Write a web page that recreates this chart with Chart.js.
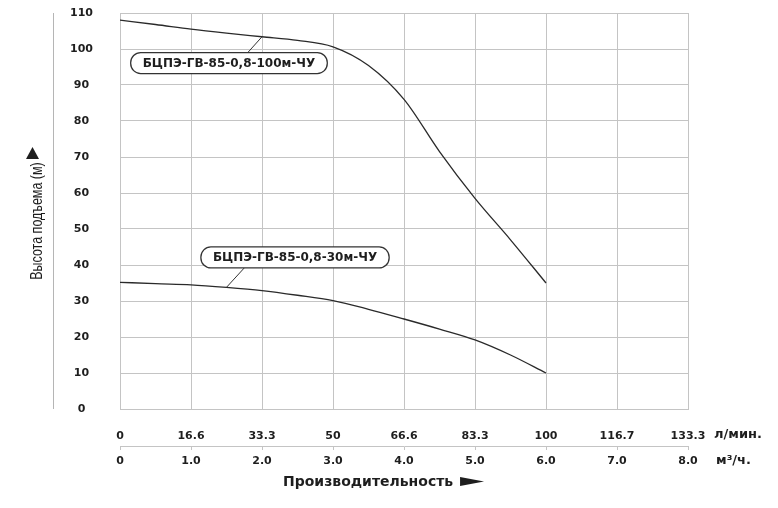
<!DOCTYPE html>
<html>
<head>
<meta charset="utf-8">
<script src="https://cdn.jsdelivr.net/npm/chart.js@4.4.1/dist/chart.umd.min.js"></script>
<style>
  html, body { margin: 0; padding: 0; background: #fff; }
  #wrap { position: relative; width: 778px; height: 508px; }
</style>
</head>
<body>
<div id="wrap"><canvas id="pumpChart"></canvas></div>
<script>
// Расход, м3/ч (точки)
const flowM3h = [0, 0.5, 1, 1.5, 2, 2.5, 3, 3.5, 4, 4.5, 5, 5.5, 6];
// Напор, м
const head100 = [108, 106.8, 105.5, 104.4, 103.4, 102.4, 100.6, 95.4, 86, 71.5, 58.5, 47, 35];
const head30 = [35.2, 34.8, 34.5, 33.8, 32.9, 31.6, 30.1, 27.7, 25, 22.2, 19.2, 15, 10];

const curveNames = ['БЦПЭ-ГВ-85-0,8-100м-ЧУ', 'БЦПЭ-ГВ-85-0,8-30м-ЧУ'];

const headTicks = [0, 10, 20, 30, 40, 50, 60, 70, 80, 90, 100, 110];
const flowTicks = [0, 1, 2, 3, 4, 5, 6, 7, 8];
const lpmLabels = ['0', '16.6', '33.3', '50', '66.6', '83.3', '100', '116.7', '133.3'];
const m3hLabels = ['0', '1.0', '2.0', '3.0', '4.0', '5.0', '6.0', '7.0', '8.0'];

const GRID = '#c4c4c4';
const INK = '#1e1e1e';
const tickFont = { family: 'DejaVu Sans', size: 11, weight: 'bold' };

const toPoints = (ys) => flowM3h.map((x, i) => ({ x: x, y: ys[i] }));

// подписи кривых: центр рамки и начало выноски в единицах осей
const callouts = [
    { ds: 0, text: curveNames[0], cx: 1.535, cy: 96.1, leadX: 1.80, anchor: 4, side: 'top' },
    { ds: 1, text: curveNames[1], cx: 2.465, cy: 42.1, leadX: 1.75, anchor: 3, side: 'bottom' }
];

const decor = {
    id: 'decor',
    beforeDatasetsDraw(chart) {
        const { ctx, chartArea: a } = chart;
        ctx.save();
        ctx.strokeStyle = '#b5b5b5';
        ctx.lineWidth = 1;
        ctx.beginPath();
        ctx.moveTo(53.5, a.top);
        ctx.lineTo(53.5, a.bottom);
        ctx.stroke();
        ctx.restore();
    },
    afterDatasetsDraw(chart) {
        const { ctx, chartArea: a, scales: { x, y } } = chart;
        ctx.save();

        // выноски с подписями
        ctx.font = 'bold 12px "DejaVu Sans"';
        callouts.forEach(c => {
            const pt = chart.getDatasetMeta(c.ds).data[c.anchor];
            const w = ctx.measureText(c.text).width + 24;
            const h = 21;
            const bx = x.getPixelForValue(c.cx) - w / 2;
            const by = y.getPixelForValue(c.cy) - h / 2;
            const lx = x.getPixelForValue(c.leadX);
            const ly = c.side === 'top' ? by : by + h;

            ctx.strokeStyle = '#333';
            ctx.lineWidth = 1;
            ctx.beginPath();
            ctx.moveTo(lx, ly);
            ctx.lineTo(pt.x, pt.y);
            ctx.stroke();

            ctx.fillStyle = '#fff';
            ctx.lineWidth = 1.3;
            ctx.beginPath();
            ctx.roundRect(bx, by, w, h, 10);
            ctx.fill();
            ctx.stroke();

            ctx.fillStyle = INK;
            ctx.textAlign = 'center';
            ctx.textBaseline = 'middle';
            ctx.fillText(c.text, bx + w / 2, by + h / 2 + 0.5);
        });

        // единицы расхода справа от осей
        ctx.font = 'bold 13px "DejaVu Sans"';
        ctx.textAlign = 'left';
        ctx.textBaseline = 'middle';
        ctx.fillStyle = INK;
        ctx.fillText('л/мин.', a.right + 26, 435);
        ctx.fillText('м³/ч.', a.right + 28, 461);

        // заголовок оси X со стрелкой
        ctx.font = 'bold 14px "DejaVu Sans"';
        ctx.fillText('Производительность', 283, 482);
        const tx = 283 + ctx.measureText('Производительность ').width + 2;
        ctx.beginPath();
        ctx.moveTo(tx, 477);
        ctx.lineTo(tx + 24, 481.5);
        ctx.lineTo(tx, 486);
        ctx.closePath();
        ctx.fill();

        // заголовок оси Y со стрелкой
        ctx.save();
        ctx.translate(38, 221);
        ctx.rotate(-Math.PI / 2);
        ctx.scale(1, 1.3);
        ctx.font = '12.5px "Liberation Sans"';
        ctx.textAlign = 'center';
        ctx.fillText('Высота подъема (м)', 0, 0);
        ctx.restore();
        ctx.beginPath();
        ctx.moveTo(26, 159);
        ctx.lineTo(32.5, 147);
        ctx.lineTo(39, 159);
        ctx.closePath();
        ctx.fill();

        ctx.restore();
    }
};

new Chart(document.getElementById('pumpChart'), {
    type: 'line',
    data: {
        datasets: [
            { label: curveNames[0], data: toPoints(head100) },
            { label: curveNames[1], data: toPoints(head30) }
        ].map(d => Object.assign(d, {
            borderColor: '#2a2a2a',
            borderWidth: 1.3,
            pointRadius: 0,
            fill: false,
            cubicInterpolationMode: 'monotone'
        }))
    },
    options: {
        responsive: true,
        maintainAspectRatio: false,
        animation: false,
        layout: { padding: { left: 0, right: 90, top: 13, bottom: 0 } },
        plugins: { legend: { display: false }, tooltip: { enabled: false } },
        scales: {
            x: {
                type: 'linear', position: 'bottom', weight: 0,
                min: 0, max: 8,
                afterBuildTicks: s => { s.ticks = flowTicks.map(v => ({ value: v })); },
                afterFit: s => { s.height = 37; },
                ticks: {
                    autoSkip: false, maxRotation: 0, padding: 21,
                    color: INK, font: tickFont,
                    callback: (v, i) => lpmLabels[i]
                },
                grid: { color: GRID, drawTicks: false },
                border: { color: GRID }
            },
            x2: {
                type: 'linear', position: 'bottom', weight: 1,
                min: 0, max: 8,
                afterBuildTicks: s => { s.ticks = flowTicks.map(v => ({ value: v })); },
                afterFit: s => { s.height = 62; },
                ticks: {
                    autoSkip: false, maxRotation: 0, padding: 5,
                    color: INK, font: tickFont,
                    callback: (v, i) => m3hLabels[i]
                },
                grid: { drawOnChartArea: false, color: GRID, tickLength: 4 },
                border: { color: GRID }
            },
            y: {
                type: 'linear', position: 'left',
                min: 0, max: 110,
                afterBuildTicks: s => { s.ticks = headTicks.map(v => ({ value: v })); },
                afterFit: s => { s.width = 120; },
                ticks: {
                    padding: 0, crossAlign: 'center',
                    color: INK, font: tickFont
                },
                grid: { color: GRID, drawTicks: true, tickLength: 27, tickColor: 'rgba(0,0,0,0)' },
                border: { color: GRID }
            }
        }
    },
    plugins: [decor]
});
</script>
</body>
</html>
